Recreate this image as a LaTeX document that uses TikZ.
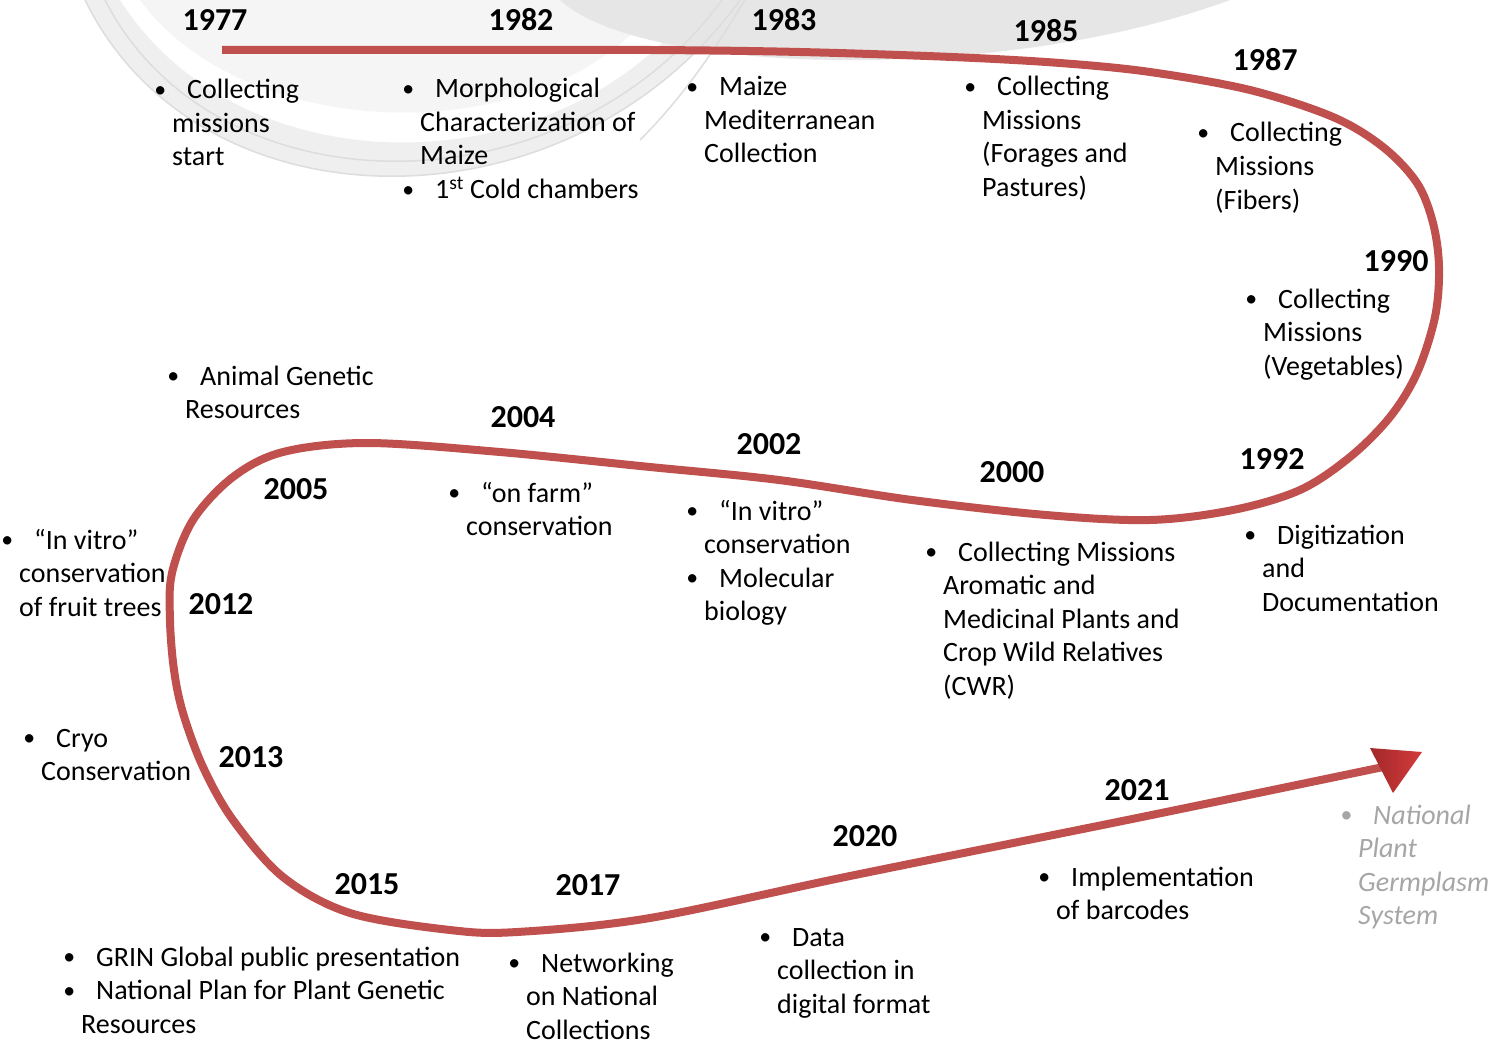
\documentclass[tikz,border=0pt]{standalone}
\usepackage{fontspec}
\setmainfont{Carlito}
\definecolor{tlred}{HTML}{C0504D}
\definecolor{arrowdark}{HTML}{A3282A}
\definecolor{arrowlight}{HTML}{D43B3B}
\definecolor{bgA}{HTML}{EFEFEF}
\definecolor{bgB}{HTML}{E6E6E6}
\definecolor{bgLine}{HTML}{DDDDDD}
\definecolor{npgs}{HTML}{A6A6A6}
\newcommand\bul{\makebox[15pt][l]{\hspace*{-12pt}\makebox[0pt]{\raisebox{1.2pt}{\scalebox{0.85}{\textbullet}}}}}
\tikzset{
  txt/.style={anchor=base west, align=left, inner sep=0pt, font=\fontsize{28}{33.5}\selectfont},
  yr/.style={anchor=base, inner sep=0pt, font=\bfseries\fontsize{32}{32}\selectfont},
  timeline/.style={draw=tlred, line width=8pt, line join=round},
  bgline/.style={draw=bgLine, line width=1.5pt}
}
\begin{document}
\begin{tikzpicture}[x=1pt,y=-1pt]
\useasboundingbox (0,0) rectangle (1493,1043);
\fill[white] (0,0) rectangle (1493,1043);
% background watermark
\begin{scope}
\clip (0,0) rectangle (1493,1043);
\fill[bgA] (85,0) .. controls (200,235) and (570,235) .. (740,0) -- (700,0) .. controls (560,190) and (240,190) .. (120,0) -- cycle;
\fill[bgA!60] (140,0) .. controls (250,150) and (560,150) .. (660,0) -- cycle;
\fill[bgB] (560,0) .. controls (640,75) and (1000,85) .. (1230,0) -- cycle;
\draw[bgline] (85,0) .. controls (200,235) and (570,235) .. (740,0);
\draw[bgline] (105,0) .. controls (215,215) and (565,215) .. (722,0);
\draw[bgline] (640,140) .. controls (690,90) and (720,40) .. (745,0);
\end{scope}
% timeline
\coordinate (start) at (222,50);
\coordinate (tip) at (1388,766);
\draw[timeline] plot[smooth, tension=0.55] coordinates {
 (222,50) (450,50) (650,50) (800,52) (952,57) (1060,63) (1150,72) (1250,90)
 (1333,117) (1383,147) (1417,183) (1433,223) (1439,267) (1435,317) (1417,373)
 (1390,417) (1350,457) (1300,490) (1233,510) (1150,520) (1046,515) (912,500) (779,480)
 (650,467) (500,452) (367,443) (283,452) (233,477) (193,520) (172,573) (170,620)
 (174,670) (183,713) (203,767) (233,820) (283,877) (350,913) (450,930) (517,932)
 (650,918) (850,876) (1137,818) (1388,766)};
\fill[tlred] (start) ++(0,-4) rectangle ++(3,8);
\shade[left color=arrowdark, right color=arrowlight] (1370,748) -- (1422,752) -- (1393,793) -- cycle;
% years
\node[yr] (y1977) at (215,31) {1977};
\node[yr] (y1982) at (521,31) {1982};
\node[yr] (y1983) at (784,31) {1983};
\node[yr] (y1985) at (1046,42) {1985};
\node[yr] (y1987) at (1265,71) {1987};
\node[yr] (y1990) at (1396,271) {1990};
\node[yr] (y1992) at (1272,469) {1992};
\node[yr] (y2000) at (1012,482) {2000};
\node[yr] (y2002) at (769,454) {2002};
\node[yr] (y2004) at (523,427) {2004};
\node[yr] (y2005) at (296,499) {2005};
\node[yr] (y2012) at (221,614) {2012};
\node[yr] (y2013) at (251,767) {2013};
\node[yr] (y2015) at (367,894) {2015};
\node[yr] (y2017) at (588,895) {2017};
\node[yr] (y2020) at (865,846) {2020};
\node[yr] (y2021) at (1137,800) {2021};
% descriptions (anchored at the baseline of the last line)
\node[txt] (t1977) at (172,166) {\bul Collecting\\missions\\start};
\node[txt] (t1982) at (420,198.5) {\bul Morphological\\Characterization of\\Maize\\\bul 1\textsuperscript{st} Cold chambers};
\node[txt] (t1983) at (704,163) {\bul Maize\\Mediterranean\\Collection};
\node[txt] (t1985) at (982,196.5) {\bul Collecting\\Missions\\(Forages and\\Pastures)};
\node[txt] (t1987) at (1215,209) {\bul Collecting\\Missions\\(Fibers)};
\node[txt] (t1990) at (1263,375) {\bul Collecting\\Missions\\(Vegetables)};
\node[txt] (tanim) at (185,418.5) {\bul Animal Genetic\\Resources};
\node[txt] (t2004) at (466,535.5) {\bul “on farm”\\conservation};
\node[txt] (t2002) at (704,620.5) {\bul “In vitro”\\conservation\\\bul Molecular\\biology};
\node[txt] (t2000) at (943,695) {\bul Collecting Missions\\Aromatic and\\Medicinal Plants and\\Crop Wild Relatives\\(CWR)};
\node[txt] (t1992) at (1262,611) {\bul Digitization\\and\\Documentation};
\node[txt] (t2012) at (19,616) {\bul “In vitro”\\conservation\\of fruit trees};
\node[txt] (t2013) at (41,780.5) {\bul Cryo\\Conservation};
\node[txt] (t2015) at (81,1033) {\bul GRIN Global public presentation\\\bul National Plan for Plant Genetic\\Resources};
\node[txt] (t2017) at (526,1039) {\bul Networking\\on National\\Collections};
\node[txt] (t2020) at (777,1013) {\bul Data\\collection in\\digital format};
\node[txt] (t2021) at (1056,919.5) {\bul Implementation\\of barcodes};
\node[txt, text=npgs, font=\itshape\fontsize{28}{33.5}\selectfont] (tnpgs) at (1358,924.5) {\bul National\\Plant\\Germplasm\\System};
\end{tikzpicture}
\end{document}
